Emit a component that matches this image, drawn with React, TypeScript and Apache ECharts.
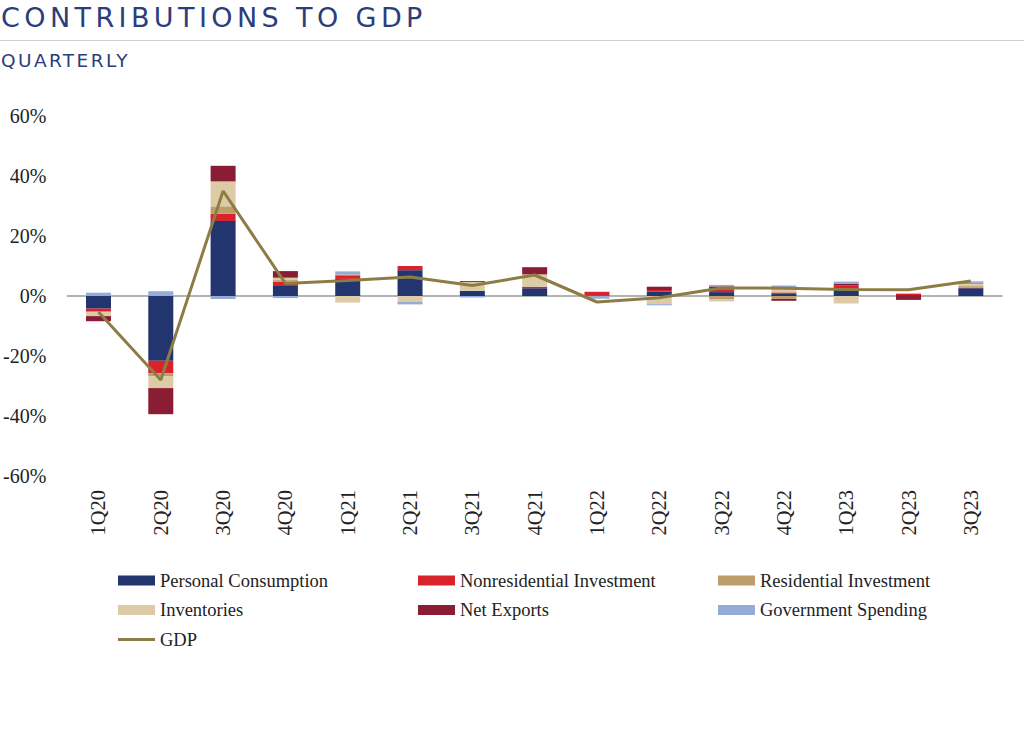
import React, { useEffect, useRef } from "react";
import * as echarts from "echarts";

const categories = ["1Q20", "2Q20", "3Q20", "4Q20", "1Q21", "2Q21", "3Q21", "4Q21", "1Q22", "2Q22", "3Q22", "4Q22", "1Q23", "2Q23", "3Q23"];
const personalConsumption = [-4.2, -21.6, 25.0, 3.6, 5.7, 8.6, 1.7, 2.6, 0.2, 1.4, 1.3, 0.9, 2.4, 0.3, 2.6];
const nonresidentialInvestment = [-1.0, -4.2, 2.4, 1.2, 1.2, 1.4, 0, 0.5, 1.2, 0.6, 0.9, 0.3, 1.2, 0.5, 0.2];
const residentialInvestment = [-0.3, -1.0, 2.5, 0.5, 0.3, 0, 0, 0, 0, 0, -1.2, -1.0, 0, 0, 0.5];
const inventories = [-1.2, -3.9, 8.3, 0.8, -2.2, -1.9, 3.0, 4.1, 0, -2.7, -0.6, 1.6, -2.5, 0, 0.9];
const netExports = [-1.7, -8.7, 5.2, 2.2, 0, 0, 0.3, 2.4, 0, 1.1, 1.0, -0.6, 0.4, -1.3, 0.2];
const governmentSpending = [1.1, 1.6, -1.0, -0.7, 1.0, -0.9, -0.5, 0, -0.9, -0.4, 0.5, 0.7, 0.8, 0, 0.5];
const gdp = [-5.3, -28.0, 35.0, 4.2, 5.2, 6.3, 3.5, 7.0, -2.0, -0.6, 2.7, 2.6, 2.2, 2.1, 5.0];

const SERIF = "'Liberation Serif', 'DejaVu Serif', serif";
const SANS = "'DejaVu Sans', 'Noto Sans', sans-serif";

export default function App() {
  const ref = useRef<HTMLDivElement>(null);

  useEffect(() => {
    if (!ref.current) return;
    const chart = echarts.init(ref.current, null, { renderer: "svg" });
    const bar = (name: string, data: number[], color: string) => ({
      name,
      type: "bar",
      stack: "total",
      data,
      barWidth: 25,
      itemStyle: { color },
      xAxisIndex: 0,
      yAxisIndex: 0,
    });
    const legendText = { fontFamily: SERIF, fontSize: 18.5, color: "#222", lineHeight: 18 };
    const legendBase = {
      orient: "vertical",
      top: 571,
      padding: 0,
      itemWidth: 37,
      itemHeight: 10,
      itemGap: 10.5,
      symbolKeepAspect: true,
      textStyle: legendText,
    };
    chart.setOption({
      animation: false,
      backgroundColor: "#ffffff",
      grid: { left: 66, right: 22, top: 116, bottom: 274 },
      legend: [
        {
          ...legendBase,
          left: 118,
          data: [
            { name: "Personal Consumption", icon: "rect" },
            { name: "Inventories", icon: "rect" },
            { name: "GDP", icon: "path://M0,0L37,0L37,3L0,3Z" },
          ],
        },
        {
          ...legendBase,
          left: 418,
          data: [
            { name: "Nonresidential Investment", icon: "rect" },
            { name: "Net Exports", icon: "rect" },
          ],
        },
        {
          ...legendBase,
          left: 718,
          data: [
            { name: "Residential Investment", icon: "rect" },
            { name: "Government Spending", icon: "rect" },
          ],
        },
      ],
      xAxis: [
        {
          type: "category",
          data: categories,
          position: "bottom",
          axisLine: { show: false, onZero: false },
          axisTick: { show: false },
          axisLabel: {
            rotate: 90,
            interval: 0,
            margin: 14,
            fontFamily: SERIF,
            fontSize: 20.5,
            color: "#222",
          },
        },
        {
          type: "category",
          data: categories,
          position: "bottom",
          axisLine: { show: true, onZero: true, lineStyle: { color: "#9a9a9a", width: 1.5 } },
          axisTick: { show: false },
          axisLabel: { show: false },
        },
      ],
      yAxis: {
        type: "value",
        min: -60,
        max: 60,
        interval: 20,
        splitLine: { show: false },
        axisLine: { show: false },
        axisTick: { show: false },
        axisLabel: {
          formatter: "{value}%",
          margin: 21,
          fontFamily: SERIF,
          fontSize: 20,
          color: "#222",
        },
      },
      series: [
        bar("Personal Consumption", personalConsumption, "#22356f"),
        bar("Nonresidential Investment", nonresidentialInvestment, "#d9232a"),
        bar("Residential Investment", residentialInvestment, "#bd9d6b"),
        bar("Inventories", inventories, "#dccba6"),
        bar("Net Exports", netExports, "#8a1c34"),
        bar("Government Spending", governmentSpending, "#94acd6"),
        {
          name: "GDP",
          type: "line",
          data: gdp,
          symbol: "none",
          z: 5,
          lineStyle: { color: "#8d7d45", width: 3 },
          itemStyle: { color: "#8d7d45" },
        },
      ],
    });
    return () => chart.dispose();
  }, []);

  return (
    <div style={{ position: "absolute", left: 0, top: 0, width: 1024, height: 750, background: "#fff", overflow: "hidden" }}>
      <div ref={ref} style={{ position: "absolute", left: 0, top: 0, width: 1024, height: 750 }} />
      <div
        style={{
          position: "absolute",
          left: 1,
          top: 2,
          fontFamily: SANS,
          fontSize: 27,
          lineHeight: "32px",
          letterSpacing: "4.4px",
          color: "#2c3d7c",
          whiteSpace: "nowrap",
        }}
      >
        CONTRIBUTIONS TO GDP
      </div>
      <div style={{ position: "absolute", left: 0, top: 40, width: 1024, height: 1, background: "#d0d0d0" }} />
      <div
        style={{
          position: "absolute",
          left: 1,
          top: 49,
          fontFamily: SANS,
          fontSize: 18.5,
          lineHeight: "24px",
          letterSpacing: "2.4px",
          color: "#2c3d7c",
          whiteSpace: "nowrap",
        }}
      >
        QUARTERLY
      </div>
    </div>
  );
}
